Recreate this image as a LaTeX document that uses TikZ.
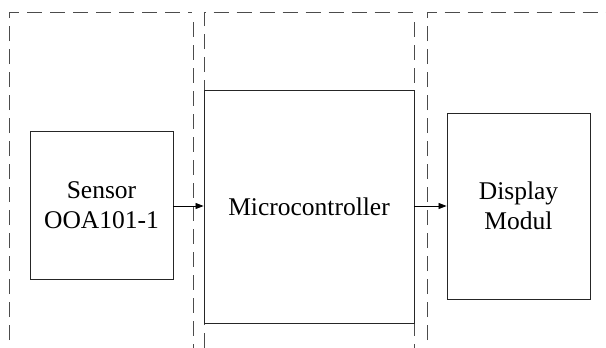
\documentclass[tikz,border=0pt]{standalone}
\usepackage{fontspec}
\setmainfont{Liberation Serif}
\usetikzlibrary{arrows.meta}
\begin{document}
\begin{tikzpicture}[x=1pt,y=1pt,
  region/.style={draw=black!70, line width=1pt, dash pattern=on 15pt off 8pt},
  blockbox/.style={draw=black!85, line width=0.9pt, inner sep=0pt, align=center,
    font=\fontsize{25.5}{30}\selectfont},
  conn/.style={draw=black, line width=0.8pt, -{Triangle[length=8pt,width=6pt]}}]
\useasboundingbox (0,0) rectangle (606,-348);
% dashed regions
\coordinate (l1) at (9.5,-340); \coordinate (l2) at (9.5,-12.5); \coordinate (l3) at (192,-12.5);
\coordinate (l4) at (193,-22); \coordinate (l5) at (193,-348);
\coordinate (m1) at (204,-348); \coordinate (m2) at (204,-12.5); \coordinate (m3) at (414,-12.5);
\coordinate (m4) at (414,-22); \coordinate (m5) at (414,-348);
\coordinate (r1) at (427,-340); \coordinate (r2) at (427,-12.5); \coordinate (r3) at (606,-12.5);
\draw[region] (l1) -- (l2) -- (l3);
\draw[region] (l4) -- (l5);
\draw[region] (m1) -- (m2) -- (m3);
\draw[region] (m4) -- (m5);
\draw[region] (r1) -- (r2) -- (r3);
% blocks
\node[blockbox, minimum width=143pt, minimum height=148pt] (sensor) at (101.5,-205) {Sensor\\OOA101-1};
\node[blockbox, minimum width=210pt, minimum height=233pt] (mcu) at (309,-206.5) {Microcontroller};
\node[blockbox, minimum width=143pt, minimum height=186pt] (disp) at (518.5,-206) {Display\\Modul};
% connectors
\draw[conn] (sensor.east |- 0,-206) -- (mcu.west |- 0,-206);
\draw[conn] (mcu.east |- 0,-206) -- (disp.west |- 0,-206);
\end{tikzpicture}
\end{document}
